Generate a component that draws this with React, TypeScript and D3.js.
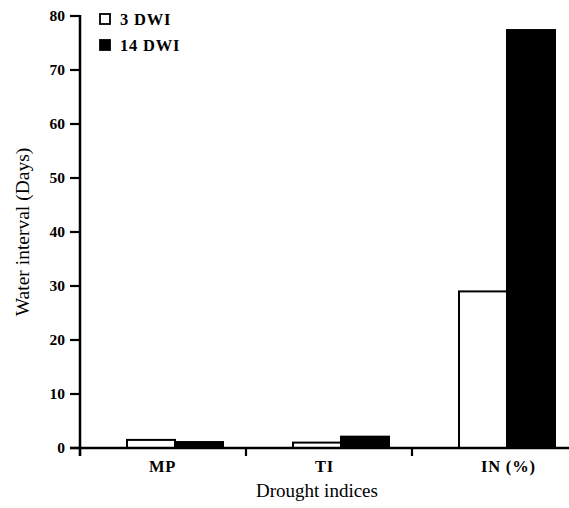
import React from "react";
import * as d3 from "d3";

const categories = ["MP", "TI", "IN (%)"];
const seriesNames = ["3 DWI", "14 DWI"];
const dwi3 = [1.5, 1.0, 29];
const dwi14 = [1.1, 2.1, 77.4];
const yTicks = [0, 10, 20, 30, 40, 50, 60, 70, 80];

const W = 569;
const H = 508;
const left = 80;
const right = 578;
const top = 16;
const bottom = 448;
const font = "'Liberation Serif', 'Times New Roman', serif";

export default function App() {
  const x0 = d3.scaleBand<string>().domain(categories).range([left, right]).paddingInner(0).paddingOuter(0);
  const x1 = d3.scaleBand<string>().domain(seriesNames).range([47, 143]);
  const y = d3.scaleLinear().domain([0, 80]).range([bottom, top]);
  const values = [dwi3, dwi14];
  const fills = ["white", "black"];
  const boundaries = categories.map((c) => x0(c) as number);

  return (
    <svg width={W} height={H} style={{ position: "absolute", left: 0, top: 0, background: "white" }}>
      {categories.map((c, i) => (
        <g key={c} transform={`translate(${x0(c)},0)`}>
          {seriesNames.map((s, j) => (
            <rect
              key={s}
              x={x1(s) as number}
              y={y(values[j][i])}
              width={x1.bandwidth()}
              height={bottom - y(values[j][i])}
              fill={fills[j]}
              stroke="black"
              strokeWidth={2}
            />
          ))}
        </g>
      ))}
      <line x1={left} x2={left} y1={top - 1} y2={bottom + 8} stroke="black" strokeWidth={2.5} />
      {yTicks.map((t) => (
        <g key={t} transform={`translate(0,${y(t)})`}>
          <line x1={left - 10} x2={left} stroke="black" strokeWidth={2.2} />
          <text x={left - 15} dy="0.35em" textAnchor="end" fontFamily={font} fontWeight="bold" fontSize={15.5}>
            {t}
          </text>
        </g>
      ))}
      <line x1={left - 10} x2={W} y1={bottom} y2={bottom} stroke="black" strokeWidth={2.5} />
      {boundaries.map((b, i) => (
        <line key={i} x1={b} x2={b} y1={bottom} y2={bottom + 8} stroke="black" strokeWidth={2.2} />
      ))}
      {categories.map((c) => (
        <text
          key={c}
          x={(x0(c) as number) + 69}
          y={472}
          fontFamily={font}
          fontWeight="bold"
          fontSize={16.5}
          letterSpacing={0.8}
        >
          {c}
        </text>
      ))}
      <text x={317} y={497} textAnchor="middle" fontFamily={font} fontSize={19}>
        Drought indices
      </text>
      <text transform={`translate(29,232) rotate(-90)`} textAnchor="middle" fontFamily={font} fontSize={19.5}>
        Water interval (Days)
      </text>
      {seriesNames.map((s, j) => (
        <g key={s} transform={`translate(100,${14 + j * 26})`}>
          <rect x={0} y={0} width={10} height={10} fill={fills[j]} stroke="black" strokeWidth={1.8} />
          <text x={20} y={11} fontFamily={font} fontWeight="bold" fontSize={16.5} letterSpacing={0.8}>
            {s}
          </text>
        </g>
      ))}
    </svg>
  );
}
